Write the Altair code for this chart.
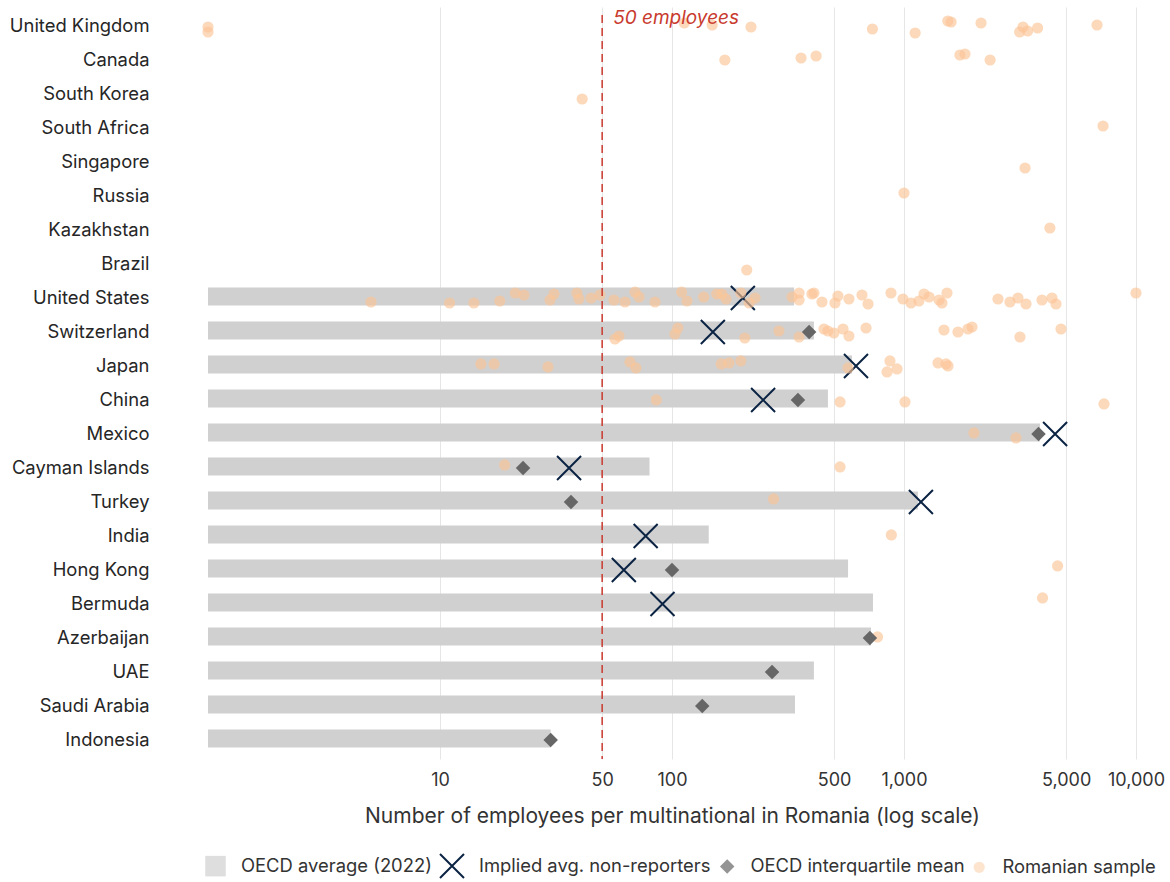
import altair as alt
import pandas as pd

FONT = "Inter"

# Row order, top to bottom
countries = [
    "United Kingdom", "Canada", "South Korea", "South Africa", "Singapore",
    "Russia", "Kazakhstan", "Brazil", "United States", "Switzerland", "Japan",
    "China", "Mexico", "Cayman Islands", "Turkey", "India", "Hong Kong",
    "Bermuda", "Azerbaijan", "UAE", "Saudi Arabia", "Indonesia",
]

S_AVG = "OECD average (2022)"
S_IMP = "Implied avg. non-reporters"
S_IQM = "OECD interquartile mean"
S_RO = "Romanian sample"
series_order = [S_AVG, S_IMP, S_IQM, S_RO]

# OECD average employees per multinational (2022)
avg_countries = ["United States", "Switzerland", "Japan", "China", "Mexico",
                 "Cayman Islands", "Turkey", "India", "Hong Kong", "Bermuda",
                 "Azerbaijan", "UAE", "Saudi Arabia", "Indonesia"]
avg_values = [336, 409, 597, 470, 3855, 80, 1148, 144, 574, 735, 721, 409, 339, 30]

# OECD interquartile mean
iqm_countries = ["Switzerland", "China", "Mexico", "Cayman Islands", "Turkey",
                 "Hong Kong", "Azerbaijan", "UAE", "Saudi Arabia", "Indonesia"]
iqm_values = [390, 349, 3800, 22.8, 36.7, 100, 713, 270, 135, 30]

# Implied average of the non-reporting firms
imp_countries = ["United States", "Switzerland", "Japan", "China", "Mexico",
                 "Cayman Islands", "Turkey", "India", "Hong Kong", "Bermuda"]
imp_values = [202, 150, 621, 247, 4480, 36, 1183, 77, 62, 91]

# Romanian sample: employees per firm, with a small vertical jitter (px)
ro_uk = [1, 1, 113, 149, 219, 731, 1117, 1545, 1596, 2148, 3258, 3152, 3412, 3766, 6792]
jit_uk = [1, 6, -3, -1, 1, 3, 7, -5, -4, -3, 1, 6, 5, 2, -1]
ro_ca = [169, 360, 418, 1742, 1832, 2350]
jit_ca = [0, -2, -4, -5, -6, 0]
ro_kr = [41]
jit_kr = [5]
ro_za = [7211]
jit_za = [-2]
ro_sg = [3325]
jit_sg = [6]
ro_ru = [1000]
jit_ru = [-3]
ro_kz = [4256]
jit_kz = [-2]
ro_br = [210]
jit_br = [6]
ro_us = [5.04, 11.0, 14.0, 18.1, 21.1, 23.0, 29.8, 31.0, 38.9, 39.7, 44.8, 48.9,
         56.2, 62.7, 69.3, 72.1, 84.5, 110, 116, 137, 156, 164, 171, 198, 215,
         228, 329, 353, 353, 401, 409, 443, 504, 519, 579, 659, 700, 879, 990,
         1072, 1160, 1220, 1282, 1416, 1458, 1532, 2542, 2863, 3100, 3357, 3934,
         4344, 4520, 10000]
jit_us = [4, 5, 5, 3, -5, -3, 2, -4, -5, 1, 0, -3,
          2, 4, -6, -1, 4, -6, 3, -1, -4, -4, 1, -5, 5,
          0, -1, -5, 2, -4, -5, 4, 5, -2, 1, -3, 6, -5, 1,
          5, 3, -4, -1, 2, 5, -5, 1, 4, 0, 6, 2,
          0, 6, -5]
ro_ch = [56.8, 59.1, 103, 106, 206, 289, 353, 452, 470, 499, 546, 579, 686,
         1487, 1709, 1887, 1964, 3162, 4751]
jit_ch = [7, 4, 2, -4, 6, -1, 5, -3, -1, 1, -3, 4, -4, -2, 0, -3, -5, 5, -3]
ro_jp = [15.0, 17.1, 29.2, 65.9, 69.9, 163, 176, 198, 574, 845, 870, 933,
         1402, 1517, 1548]
jit_jp = [-2, -2, 1, -4, 2, -2, -3, -5, 2, 6, -5, 3, -3, -2, 0]
ro_cn = [85.5, 530, 1010, 7280]
jit_cn = [0, 2, 2, 4]
ro_mx = [2003, 3039]
jit_mx = [-1, 4]
ro_ky = [19.0, 530]
jit_ky = [-3, -1]
ro_tr = [274]
jit_tr = [-3]
ro_in = [882]
jit_in = [-1]
ro_hk = [4592]
jit_hk = [-4]
ro_bm = [3955]
jit_bm = [-6]
ro_az = [769]
jit_az = [-1]

sample_groups = [
    ("United Kingdom", ro_uk, jit_uk), ("Canada", ro_ca, jit_ca),
    ("South Korea", ro_kr, jit_kr), ("South Africa", ro_za, jit_za),
    ("Singapore", ro_sg, jit_sg), ("Russia", ro_ru, jit_ru),
    ("Kazakhstan", ro_kz, jit_kz), ("Brazil", ro_br, jit_br),
    ("United States", ro_us, jit_us), ("Switzerland", ro_ch, jit_ch),
    ("Japan", ro_jp, jit_jp), ("China", ro_cn, jit_cn),
    ("Mexico", ro_mx, jit_mx), ("Cayman Islands", ro_ky, jit_ky),
    ("Turkey", ro_tr, jit_tr), ("India", ro_in, jit_in),
    ("Hong Kong", ro_hk, jit_hk), ("Bermuda", ro_bm, jit_bm),
    ("Azerbaijan", ro_az, jit_az),
]

threshold_value = [50]
threshold_text = ["50 employees"]

# ---- tables -------------------------------------------------------------
avg_df = pd.DataFrame({"country": avg_countries, "value": avg_values})

rows = []
for c, v in zip(imp_countries, imp_values):
    rows.append({"country": c, "value": v, "series": S_IMP, "jit": 0})
for c, vals, jits in sample_groups:
    for v, j in zip(vals, jits):
        rows.append({"country": c, "value": v, "series": S_RO, "jit": j})
for c, v in zip(iqm_countries, iqm_values):
    rows.append({"country": c, "value": v, "series": S_IQM, "jit": 0})
pts_df = pd.DataFrame(rows)

thr_df = pd.DataFrame({"x": threshold_value, "label": threshold_text})

# ---- scales & axes ---------------------------------------------------------
PLOT_W = 928
PLOT_H = 752
RED = "#c93a2e"

# upper bound nudged past 10,000 so the last tick survives rounding
xscale = alt.Scale(type="log", domain=[1, 10001], nice=False)
yscale = alt.Scale(domain=countries, paddingInner=0.38, paddingOuter=0.25)

xaxis = alt.Axis(
    values=[10, 50, 100, 500, 1000, 5000, 10000], format=",",
    title="Number of employees per multinational in Romania (log scale)",
    grid=True, gridColor="#e6e6e6", domain=False, ticks=False, tickSize=0,
    labelPadding=12, labelFontSize=18, labelColor="#333333",
    labelOverlap=False, labelFlush=False,
    titleFontSize=21, titleFontWeight="normal", titleColor="#333333",
    titlePadding=16,
)
yaxis = alt.Axis(
    title=None, domain=False, ticks=False, tickSize=0, grid=False,
    labelPadding=59, labelFontSize=18.4, labelColor="#262626",
)

legend = alt.Legend(
    title=None, orient="none", direction="horizontal",
    legendX=-4, legendY=846, labelFontSize=18.4, labelColor="#333333",
    labelOffset=14, columnPadding=4, symbolStrokeWidth=2, labelLimit=0,
)

shape_path_x = "M-1,-1L1,1M-1,1L1,-1"

bars = (
    alt.Chart(avg_df)
    .transform_calculate(base="1")
    .mark_bar(color="#d0d0d0")
    .encode(
        y=alt.Y("country:N", scale=yscale, axis=yaxis),
        x=alt.X("base:Q", scale=xscale, axis=xaxis),
        x2="value:Q",
    )
)

points = (
    alt.Chart(pts_df)
    .mark_point(filled=True, strokeWidth=2)
    .encode(
        y=alt.Y("country:N", scale=yscale, axis=yaxis),
        yOffset=alt.YOffset("jit:Q", scale=alt.Scale(domain=[-10.5, 10.5], range=[0, 21])),
        x=alt.X("value:Q", scale=xscale, axis=xaxis),
        shape=alt.Shape("series:N", title=None, legend=legend,
                        scale=alt.Scale(domain=series_order,
                                        range=["square", shape_path_x, "diamond", "circle"])),
        fill=alt.Fill("series:N", title=None, legend=legend,
                      scale=alt.Scale(domain=series_order,
                                      range=["#d0d0d0", "transparent", "#666666", "#fcc597"])),
        stroke=alt.Stroke("series:N", title=None, legend=legend,
                          scale=alt.Scale(domain=series_order,
                                          range=["transparent", "#0b2343", "transparent", "transparent"])),
        size=alt.Size("series:N", title=None, legend=legend,
                      scale=alt.Scale(type="ordinal", domain=series_order,
                                      range=[420, 576, 210, 125])),
        opacity=alt.Opacity("series:N", title=None, legend=legend,
                            scale=alt.Scale(type="ordinal", domain=series_order,
                                            range=[1, 1, 1, 0.65])),
    )
)

rule = (
    alt.Chart(thr_df)
    .mark_rule(color=RED, strokeDash=[8, 5], strokeWidth=1.5)
    .encode(x=alt.X("x:Q", scale=xscale), y=alt.value(8), y2=alt.value(PLOT_H))
)

rule_label = (
    alt.Chart(thr_df)
    .mark_text(align="left", baseline="middle", dx=11, fontSize=19,
               fontStyle="italic", color=RED)
    .encode(x=alt.X("x:Q", scale=xscale), y=alt.value(11), text="label:N")
)

chart = (
    alt.layer(bars, points, rule, rule_label)
    .properties(width=PLOT_W, height=PLOT_H,
                padding={"left": 9, "top": 7, "right": 5, "bottom": 0})
    .configure(font=FONT)
    .configure_view(stroke=None)
)

chart.save("out.html", embed_options={"renderer": "svg", "actions": False})
